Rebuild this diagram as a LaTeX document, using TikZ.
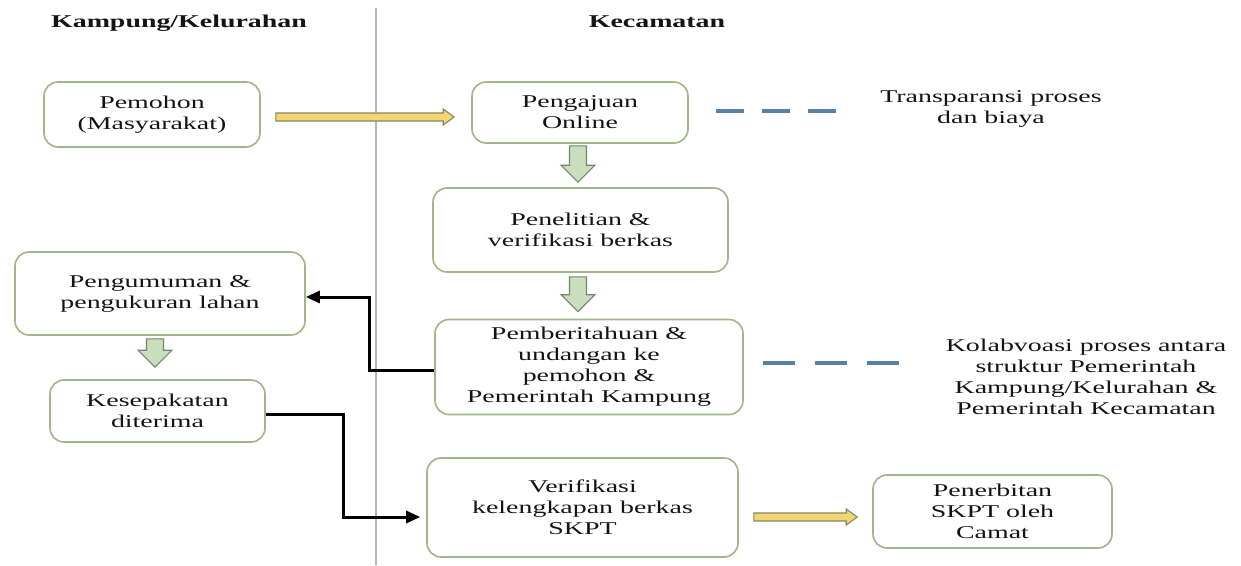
\documentclass[tikz,border=0pt]{standalone}
\usepackage{fontspec}
\setmainfont{Liberation Serif}[FakeStretch=1.55]
\usetikzlibrary{calc,arrows.meta}
\definecolor{boxline}{RGB}{160,182,135}
\definecolor{txt}{RGB}{20,20,20}
\definecolor{yfill}{RGB}{242,214,112}
\definecolor{yline}{RGB}{135,135,100}
\definecolor{gfill}{RGB}{200,222,188}
\definecolor{gline}{RGB}{115,133,108}
\definecolor{dashblue}{RGB}{88,128,168}
\definecolor{sepline}{RGB}{170,182,200}
\tikzset{
  box/.style={draw=boxline, line width=1.6pt, rounded corners=14pt, align=center, text=txt, fill=white, inner sep=0pt},
  plain/.style={align=center, text=txt, inner sep=0pt},
  head/.style={text=txt, inner sep=0pt, font=\fontsize{18}{21}\selectfont\bfseries},
  yarrow/.style={fill=yfill, draw=yline, line width=1.1pt, line join=miter},
  garrow/.style={fill=gfill, draw=gline, line width=1.1pt, line join=miter},
  conn/.style={draw=black, line width=3pt, -{Triangle[length=14pt,width=12pt]}},
  bluedash/.style={draw=dashblue, line width=4pt},
  sep/.style={draw=sepline, line width=1.3pt}
}
\newcommand{\yarrowH}[2]{\path[yarrow] let \p1=(#1), \p2=(#2) in
  (\x1,\y1+4pt) -- (\x2-11pt,\y1+4pt) -- (\x2-11pt,\y1+8pt) -- (\x2,\y1)
  -- (\x2-11pt,\y1-8pt) -- (\x2-11pt,\y1-4pt) -- (\x1,\y1-4pt) -- cycle;}
\newcommand{\garrowV}[2]{\path[garrow] let \p1=(#1), \p2=(#2) in
  (\x1-8.5pt,\y1) -- (\x1-8.5pt,\y2+17pt) -- (\x1-17pt,\y2+17pt) -- (\x1,\y2)
  -- (\x1+17pt,\y2+17pt) -- (\x1+8.5pt,\y2+17pt) -- (\x1+8.5pt,\y1) -- cycle;}
\begin{document}
\begin{tikzpicture}[x=1pt,y=-1pt,font=\fontsize{18}{21}\selectfont]
\useasboundingbox[fill=white] (0,0) rectangle (1241,565);

% separator
\coordinate (st) at (376,8);
\coordinate (sb) at (376,565);
\draw[sep] (st) -- (sb);

% headers
\node[head] (hk) at (179,23) {Kampung/Kelurahan};
\node[head] (hc) at (657,22) {Kecamatan};

% boxes
\node[box, minimum width=216pt, minimum height=65pt] (pem) at (152,114.5) {Pemohon\\(Masyarakat)};
\node[box, minimum width=216pt, minimum height=61pt] (peng) at (580,112.5) {Pengajuan\\Online};
\node[box, minimum width=295pt, minimum height=84pt] (pen) at (580.5,230) {Penelitian \&\\verifikasi berkas};
\node[box, minimum width=308pt, minimum height=95pt] (pber) at (589,367) {Pemberitahuan \&\\undangan ke\\pemohon \&\\Pemerintah Kampung};
\node[box, minimum width=290pt, minimum height=83pt] (pgm) at (160,293.5) {Pengumuman \&\\pengukuran lahan};
\node[box, minimum width=215pt, minimum height=62pt] (kes) at (157.5,411) {Kesepakatan\\diterima};
\node[box, minimum width=311pt, minimum height=99pt] (ver) at (582.5,507.5) {Verifikasi\\kelengkapan berkas\\SKPT};
\node[box, minimum width=239pt, minimum height=73pt] (pnb) at (992.5,511.5) {Penerbitan\\SKPT oleh\\Camat};

% side notes
\node[plain] (tr) at (991,109) {Transparansi proses\\dan biaya};
\node[plain] (ko) at (1086,377) {Kolabvoasi proses antara\\struktur Pemerintah\\Kampung/Kelurahan \&\\Pemerintah Kecamatan};

% dashed links
\coordinate (d1s) at ($(peng.east)+(27,-1.5)$);
\coordinate (d1e) at ($(d1s)+(120,0)$);
\draw[bluedash, dash pattern=on 28pt off 18pt] (d1s) -- (d1e);
\coordinate (d2s) at ($(pber.east)+(19,-4)$);
\coordinate (d2e) at ($(d2s)+(136,0)$);
\draw[bluedash, dash pattern=on 32pt off 20pt] (d2s) -- (d2e);

% yellow block arrows
\coordinate (y1s) at ($(pem.east)+(15,2.5)$);
\coordinate (y1e) at ($(peng.west)+(-17,4.5)$);
\yarrowH{y1s}{y1e}
\coordinate (y2s) at ($(ver.east)+(15,9.5)$);
\coordinate (y2e) at ($(pnb.west)+(-15,5.5)$);
\yarrowH{y2s}{y2e}

% green block arrows
\coordinate (g1s) at ($(peng.south)+(-2,2)$);
\coordinate (g1e) at ($(pen.north)+(-2,-5)$);
\garrowV{g1s}{g1e}
\coordinate (g2s) at ($(pen.south)+(-2.5,4)$);
\coordinate (g2e) at ($(pber.north)+(-11,-7)$);
\garrowV{g2s}{g2e}
\coordinate (g3s) at ($(pgm.south)+(-5,3)$);
\coordinate (g3e) at ($(kes.north)+(-2.5,-12)$);
\garrowV{g3s}{g3e}

% black connectors
\draw[conn] ($(pber.west)+(0,3)$) -- ++(-65,0) |- ($(pgm.east)+(0,3.5)$);
\draw[conn, shorten >=6pt] ($(kes.east)+(0,3)$) -- ++(78,0) |- ($(ver.west)+(0,9.5)$);
\end{tikzpicture}
\end{document}
